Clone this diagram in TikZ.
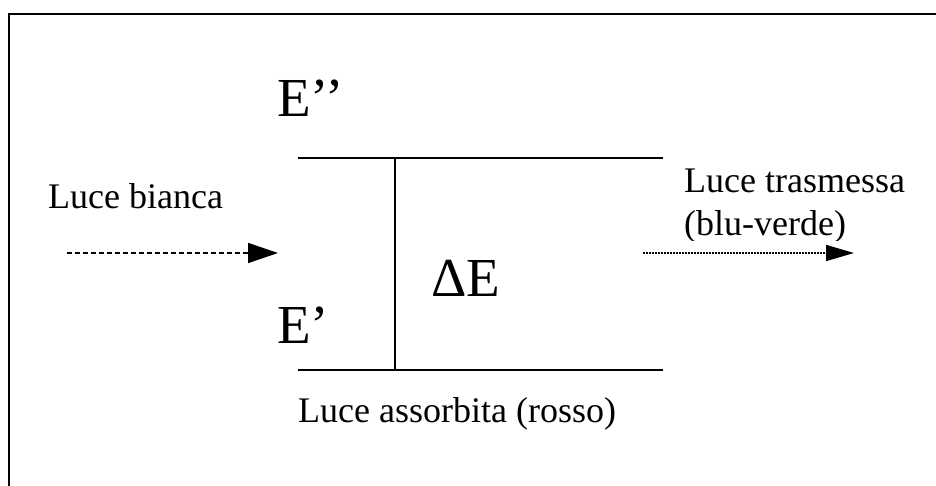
\documentclass[tikz,border=0pt]{standalone}
\usepackage{fontspec}
\setmainfont{Liberation Serif}
\usetikzlibrary{arrows.meta}
\tikzset{
  lbl/.style={inner sep=0pt, anchor=base west, font=\fontsize{36}{42}\selectfont},
  big/.style={inner sep=0pt, anchor=base west, font=\fontsize{55}{64}\selectfont},
  level/.style={line width=2pt},
}
\begin{document}
\begin{tikzpicture}[x=1pt,y=-1pt]
\useasboundingbox (0,0) rectangle (936,486);
\fill[white] (0,0) rectangle (936,486);
\draw[line width=2pt] (9,520) -- (9,14) -- (960,14);
% energy levels
\coordinate (tl) at (298,158);
\coordinate (tr) at (663,158);
\coordinate (bl) at (298,370);
\coordinate (br) at (663,370);
\coordinate (vt) at (395,158);
\coordinate (vb) at (395,370);
\draw[level] (tl) -- (tr);
\draw[level] (bl) -- (br);
\draw[level] (vt) -- (vb);
\node[big] (e2) at (277,117) {E’’};
\node[big] (e1) at (277,343) {E’};
\node[big] (de) at (431,296) {ΔE};
\node[lbl] (lb) at (48,209) {Luce bianca};
\node[lbl] (lt) at (684,193) {Luce trasmessa};
\begin{scope}
\clip (660,200) rectangle (936,241);
\node[lbl] (bv) at (684,236) {(blu-verde)};
\end{scope}
\node[lbl] (la) at (298,422) {Luce assorbita (rosso)};
\coordinate (a1) at (67,253);
\coordinate (a2) at (278,253);
\coordinate (b1) at (643,253);
\coordinate (b2) at (854,253);
\draw[-{Triangle[length=30pt,width=20pt]}, line width=1.5pt, dash pattern=on 5pt off 3pt] (a1) -- (a2);
\draw[-{Triangle[length=28pt,width=16pt]}, line width=1.5pt, dash pattern=on 1.5pt off 1.5pt] (b1) -- (b2);
\end{tikzpicture}
\end{document}
